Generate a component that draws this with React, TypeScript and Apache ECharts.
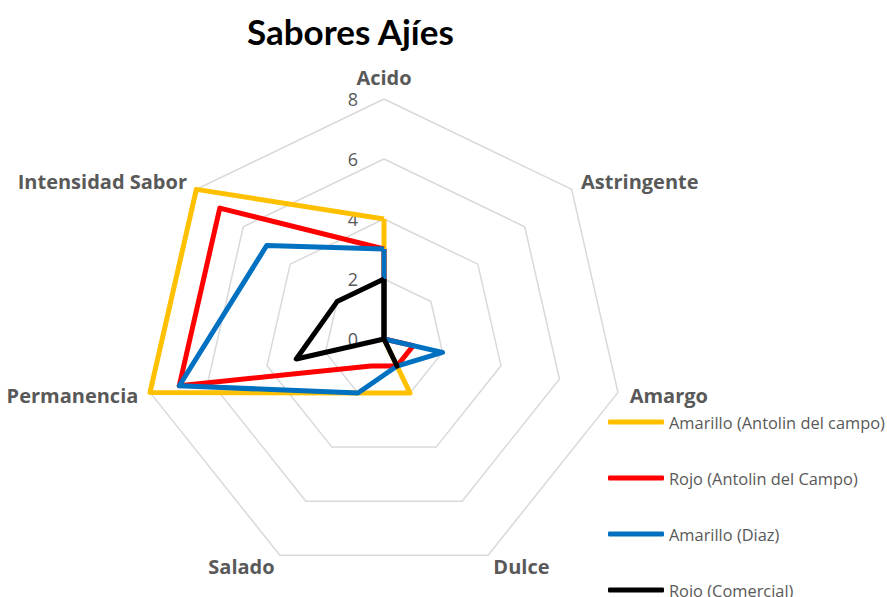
import React, { useEffect, useRef } from "react";
import * as echarts from "echarts";

// Axes in clockwise order starting at the top
const categories = ["Acido", "Astringente", "Amargo", "Dulce", "Salado", "Permanencia", "Intensidad Sabor"];
const seriesNames = [
  "Amarillo (Antolin del campo)",
  "Rojo (Antolin del Campo)",
  "Amarillo (Diaz)",
  "Rojo (Comercial)",
];
const amarilloAntolin = [4, 0, 0, 2, 2, 8, 8];
const rojoAntolin = [3, 0, 1, 1, 1, 7, 7];
const amarilloDiaz = [3, 0, 2, 1, 2, 7, 5];
const rojoComercial = [2, 0, 0, 1, 0, 3, 2];
const axisMax = 8;
const colors = ["#FFC000", "#FF0000", "#0070C0", "#000000"];

// ECharts radar places indicators counter-clockwise; reorder so the picture reads clockwise
const order = [0, 6, 5, 4, 3, 2, 1];
const reorder = (arr: any[]) => order.map((i) => arr[i]);

export default function App() {
  const ref = useRef<HTMLDivElement>(null);
  useEffect(() => {
    document.body.style.margin = "0";
    document.body.style.overflow = "hidden";
    const chart = echarts.init(ref.current!, undefined, { renderer: "svg" });
    const allSeries = [amarilloAntolin, rojoAntolin, amarilloDiaz, rojoComercial];
    chart.setOption({
      animation: false,
      backgroundColor: "#ffffff",
      textStyle: { fontFamily: "Open Sans" },
      title: {
        text: "Sabores Ajíes",
        left: 242,
        top: 8,
        textStyle: { fontFamily: "Lato", fontWeight: "bold", fontSize: 35, color: "#000000" },
      },
      legend: {
        orient: "vertical",
        left: 603,
        top: 409,
        itemWidth: 56,
        itemHeight: 5,
        itemGap: 40,
        icon: "roundRect",
        data: seriesNames,
        textStyle: { fontFamily: "Open Sans", fontSize: 16.4, color: "#595959" },
      },
      radar: {
        center: [384, 339],
        radius: 240,
        startAngle: 90,
        splitNumber: 4,
        shape: "polygon",
        nameGap: 12,
        axisName: { color: "#595959", fontWeight: "bold", fontSize: 20, fontFamily: "Open Sans" },
        splitLine: { lineStyle: { color: "#d9d9d9", width: 1.5 } },
        splitArea: { show: false },
        axisLine: { show: false },
        axisTick: { show: false },
        axisLabel: { show: false },
        indicator: reorder(categories).map((name: string, i: number) => ({
          name,
          min: 0,
          max: axisMax,
          ...(i === 0
            ? { axisLabel: { show: true, color: "#595959", fontSize: 18, fontFamily: "Open Sans", margin: 26 } }
            : {}),
        })),
      },
      series: [
        {
          type: "radar",
          symbol: "none",
          data: allSeries.map((vals, k) => ({
            name: seriesNames[k],
            value: reorder(vals),
            lineStyle: { color: colors[k], width: 5, join: "round" },
            itemStyle: { color: colors[k] },
          })),
        },
      ],
    });
    return () => chart.dispose();
  }, []);
  return <div ref={ref} style={{ width: 887, height: 625 }} />;
}
